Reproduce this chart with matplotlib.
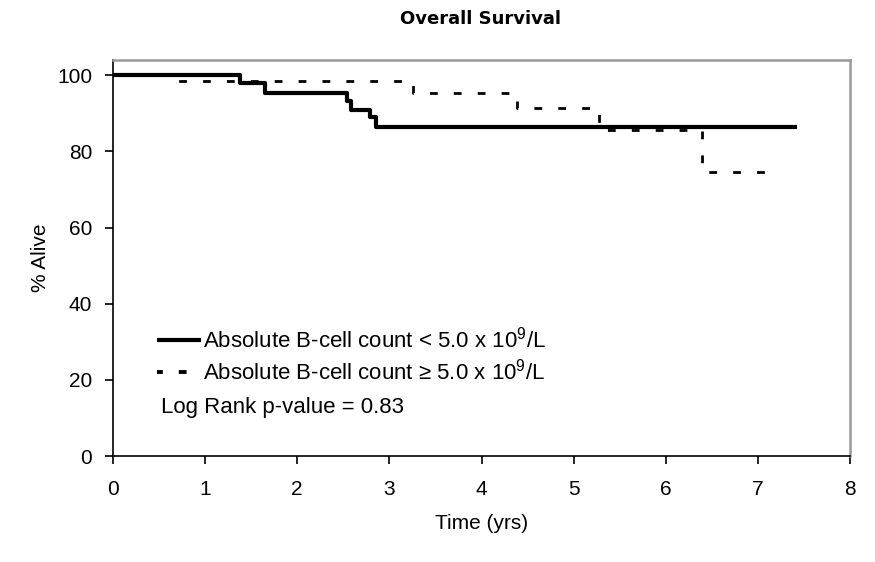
import matplotlib
matplotlib.use("Agg")
import matplotlib.pyplot as plt
from matplotlib.lines import Line2D

plt.rcParams['font.family'] = ['Liberation Sans', 'DejaVu Sans']
plt.rcParams['mathtext.fontset'] = 'custom'
plt.rcParams['mathtext.rm'] = 'Liberation Sans'
plt.rcParams['mathtext.it'] = 'Liberation Sans'

# Kaplan-Meier step data
low_time = [0, 1.38, 1.65, 2.54, 2.58, 2.79, 2.86, 7.42]
low_alive = [100, 98.0, 95.4, 93.2, 91.0, 89.0, 86.4, 86.4]

high_time = [0, 0.71, 3.26, 4.38, 5.28, 6.39, 7.11]
high_alive = [100, 98.4, 95.3, 91.4, 85.5, 74.7, 74.7]

label_low = r"Absolute B-cell count < 5.0 x 10$^{9}$/L"
label_high = "Absolute B-cell count \u2265 5.0 x 10$^{9}$/L"
p_text = "Log Rank p-value = 0.83"

fig = plt.figure(figsize=(8.75, 5.62), dpi=100)
ax = fig.add_axes([113 / 875, 1 - 456 / 562, 737 / 875, 396 / 562])

dash = (2.8, 5.8)
ax.step(low_time, low_alive, where='post', color='black', lw=3.0,
        solid_capstyle='butt')
ax.step(high_time, high_alive, where='post', color='black', lw=2.0,
        linestyle=(0, dash), dash_capstyle='butt')

ax.set_xlim(0, 8)
ax.set_ylim(0, 104)
ax.set_xticks(range(0, 9))
ax.set_yticks(range(0, 101, 20))
ax.tick_params(axis='both', labelsize=15, direction='out', length=6, width=1.2)
ax.tick_params(axis='x', pad=11)
ax.tick_params(axis='y', pad=9)

for side in ['left', 'bottom']:
    ax.spines[side].set_color('black')
    ax.spines[side].set_linewidth(1.2)
for side in ['top', 'right']:
    ax.spines[side].set_color('#999999')
    ax.spines[side].set_linewidth(1.8)

ax.set_xlabel("Time (yrs)", fontsize=15, labelpad=11)
ax.set_ylabel("% Alive", fontsize=15, labelpad=5)
fig.text(0.549, 0.966, "Overall Survival", ha='center', va='center',
         fontsize=13, fontweight='bold', family='DejaVu Sans')

handles = [
    Line2D([], [], color='black', lw=3.0, solid_capstyle='butt'),
    Line2D([], [], color='black', lw=2.8, linestyle=(6.6, (2.0, 4.1)),
           dash_capstyle='butt'),
]
leg = ax.legend(handles, [label_low, label_high], loc='lower left',
                bbox_to_anchor=(0.06, 0.18), frameon=False,
                fontsize=16, handlelength=1.98, handletextpad=0.1,
                borderaxespad=0, borderpad=0, labelspacing=0.28)
ax.text(0.065, 0.123, p_text, transform=ax.transAxes, fontsize=16,
        ha='left', va='center')

fig.savefig("out.png", dpi=100)
